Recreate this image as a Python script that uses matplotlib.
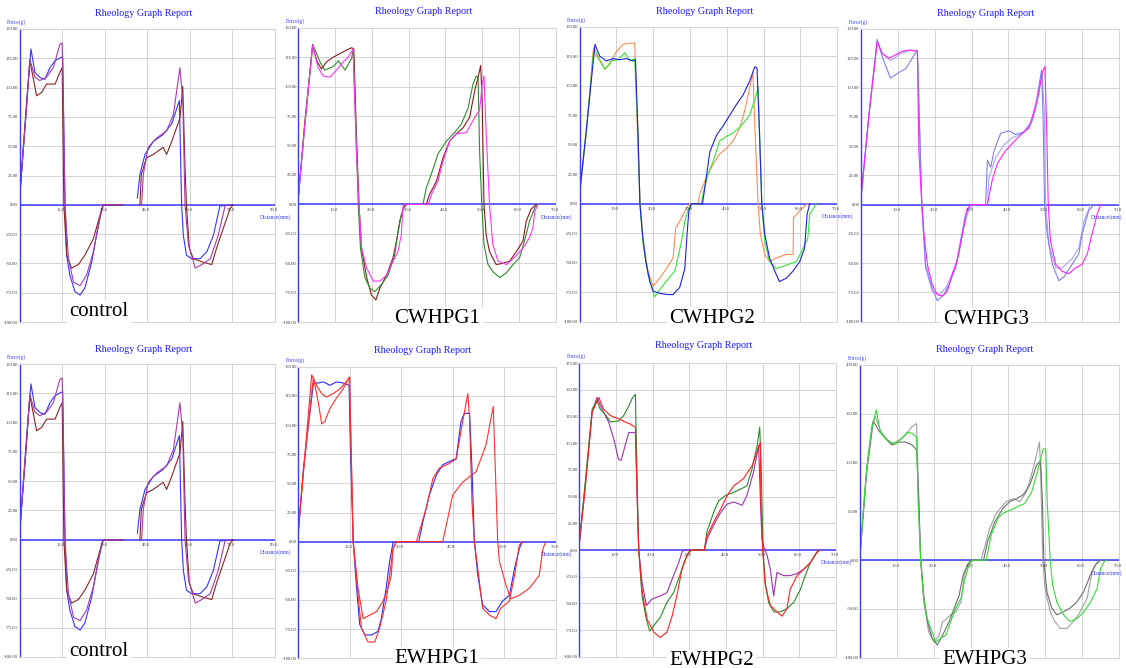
import matplotlib
matplotlib.use("Agg")
import matplotlib.pyplot as plt

NaN = float("nan")

# ---------------- control ----------------
CTRL_BLUE_X = [0, 2.5, 4.0, 5.4, 7.2, 8.9, 10.7, 12.5, 14.8, 15.2, 16.0, 16.6, 17.7, 19.5, 21.3, 23.0, 25.4, 27.1, 28.9, 29.5,
               36.5, NaN, 41.5, 42.4, 44.2, 47.1, 50.6, 53.6, 56.3, 57.1, 57.7, 58.8, 60.6, 63.6, 66.0, 68.3, 70.6, 75.3]
CTRL_BLUE_Y = [5.7, 89, 133, 113, 108.6, 107, 117, 123, 126, 126, 0, -43, -60, -74, -77, -71, -49, -26, -4, 0,
               0, NaN, 5.7, 26, 43, 54, 60, 69, 89, 0, -26, -43, -46, -46, -40, -26, -1, 0]
CTRL_MAROON_X = [0, 2.5, 3.6, 6.0, 7.8, 9.5, 12.5, 14.2, 15.0, 15.6, 16.6, 18.3, 20.7, 23.0, 26.0, 28.3, 29.5, 36.5, NaN, 42.4,
                 42.9, 44.7, 47.1, 50.6, 51.8, 53.6, 56.5, 57.5, 58.3, 58.8, 59.8, 61.2, 64.7, 67.7, 69.4, 71.8, 74.2, 75.3]
CTRL_MAROON_Y = [5.7, 85, 123, 93, 96, 103, 103, 113, 117, 0, -43, -54, -51, -43, -29, -9, 0, 0, NaN, 0,
                 26, 40, 43, 49, 43, 54, 74, 101, 31, 0, -37, -46, -49, -51, -37, -20, -3, 0]
CTRL_PURPLE_X = [0, 2.5, 3.6, 5.4, 7.1, 9.5, 11.9, 14.2, 15.0, 15.4, 16.0, 17.2, 19.0, 21.3, 23.6, 26.0, 28.3, 29.5, 36.5, NaN,
                 43.0, 43.6, 45.3, 48.3, 51.8, 54.2, 56.5, 57.5, 58.3, 59.5, 61.9, 64.2, 67.2, 70.0, 72.4, 74.1]
CTRL_PURPLE_Y = [5.7, 85, 124, 109, 106, 109, 117, 137, 138, 89, 0, -46, -66, -69, -60, -40, -11, 0, 0, NaN,
                 0, 26, 49, 57, 63, 77, 117, 89, 0, -34, -54, -51, -46, -26, -1, 0]

# ---------------- CWHPG1 ----------------
CW1_BROWN_X = [0, 1.8, 3.9, 5.0, 6.3, 7.7, 9.5, 11.3, 13.1, 14.5, 15.1, 15.8, 16.5, 17.2, 18.6, 19.9, 21.1, 22.2, 24.0, 25.8,
               26.7, 27.6, 28.5, 29.4, 33.9, 34.8, 35.7, 37.6, 39.4, 41.2, 43.0, 44.8, 46.6, 48.0, 48.9, 49.6, 50.0, 50.5, 51.1, 52.0,
               53.8, 55.7, 57.5, 59.3, 61.1, 62.0, 63.3, 64.7]
CW1_BROWN_Y = [5.7, 71, 135, 122, 115, 121, 125, 128, 131, 133, 132, 60, 0, -37, -62, -77, -81, -71, -60, -45,
               -31, -14, -4, 0, 0, 0, 8.5, 20, 40, 54, 60, 65, 74, 97, 108, 118, 88, 0, -26, -40,
               -51, -50, -48, -40, -31, -14, -4, 0]
CW1_GREEN_X = [0, 1.8, 3.9, 5.9, 7.2, 9.5, 10.9, 12.7, 14.5, 14.9, 15.7, 16.3, 16.9, 18.1, 19.5, 20.8, 22.6, 24.4, 26.2, 27.0,
               28.0, 29.0, 33.9, 34.8, 36.2, 38.0, 40.3, 42.5, 44.3, 46.2, 47.5, 48.4, 48.9, 49.3, 49.9, 50.5, 51.6, 52.9, 54.8, 56.6,
               58.4, 60.2, 61.5, 62.9, 64.3, 65.2]
CW1_GREEN_Y = [5.7, 68, 136, 121, 114, 117, 122, 114, 124, 132, 60, 0, -37, -62, -71, -74, -68, -60, -43, -26,
               -9, 0, 0, 14, 26, 43, 54, 61, 68, 82, 102, 109, 108, 45, 0, -34, -51, -57, -62, -58,
               -51, -45, -31, -14, -3, 0]
CW1_MAGENTA_X = [0, 1.8, 3.9, 5.4, 6.8, 8.6, 10.4, 12.2, 13.6, 14.9, 15.8, 16.5, 17.2, 18.6, 20.4, 22.2, 24.0, 25.8, 27.1, 28.0,
                 28.5, 29.9, 35.3, 36.2, 38.0, 39.4, 41.2, 43.0, 45.7, 48.0, 49.3, 50.0, 50.5, 51.1, 52.0, 52.9, 54.3, 56.6, 58.8, 61.1,
                 62.9, 63.8, 64.3, 65.2]
CW1_MAGENTA_Y = [5.7, 68, 135, 116, 109, 108, 114, 121, 125, 132, 45, 0, -37, -54, -65, -65, -60, -48, -40, -26,
                 -1, 0, 0, 8.5, 20, 37, 54, 60, 61, 74, 80, 102, 109, 60, 0, -34, -48, -51, -45, -37,
                 -28, -20, -6, 0]

# ---------------- CWHPG2 ----------------
CW2_BLUE_X = [0, 1.9, 4.2, 5.5, 7.3, 9.1, 10.9, 12.7, 14.6, 15.2, 15.9, 16.4, 17.1, 18.0, 19.1, 20.0, 21.8, 24.0, 25.4, 27.2,
              28.6, 29.2, 29.7, 30.4, 33.4, 34.0, 35.4, 37.2, 39.0, 40.8, 42.6, 44.4, 46.2, 47.6, 48.2, 48.9, 49.5, 50.3, 51.6, 53.0,
              54.3, 56.2, 58.0, 59.8, 61.1, 61.8, 62.5]
CW2_BLUE_Y = [7.6, 64, 135, 125, 121, 123, 122, 123, 121, 122, 58, 0, -26, -49, -66, -74, -76, -77, -77, -71,
              -55, -26, -6, 0, 0, 13, 44, 58, 66, 75, 84, 92, 104, 116, 115, 58, 0, -26, -46, -57,
              -66, -63, -57, -49, -38, -9, 0]
CW2_ORANGE_X = [0, 1.9, 3.7, 5.1, 6.9, 8.2, 10.0, 11.8, 13.6, 15.0, 15.9, 16.5, 17.3, 18.6, 20.0, 21.8, 23.6, 25.4, 26.1, 27.7,
                29.0, 29.9, 32.2, 32.6, 34.4, 36.2, 38.0, 39.9, 41.7, 43.5, 44.8, 46.2, 47.1, 47.7, 48.5, 49.1, 50.3, 51.6, 53.4, 56.2,
                58.0, 58.1, 59.8, 61.1, 62.0]
CW2_ORANGE_Y = [7.6, 61, 129, 123, 114, 118, 129, 135, 136, 136, 44, 0, -32, -57, -70, -63, -55, -46, -21, -12,
                -4, 0, 0, 8, 22, 33, 42, 47, 53, 64, 78, 98, 111, 58, 0, -26, -43, -49, -46, -43,
                -43, -12, -6, -2, 0]
CW2_GREEN_X = [0, 1.9, 3.9, 5.5, 6.9, 8.7, 10.5, 12.3, 13.7, 15.0, 15.9, 16.4, 17.3, 18.6, 20.4, 22.2, 24.0, 25.9, 27.7, 28.6,
               29.5, 30.4, 33.1, 33.5, 34.9, 36.3, 38.0, 39.9, 41.7, 43.9, 46.2, 48.0, 48.5, 48.9, 49.5, 50.3, 51.6, 53.4, 56.2, 58.9,
               60.7, 62.0, 62.5, 64.3]
CW2_GREEN_Y = [7.6, 63, 132, 122, 114, 121, 122, 128, 121, 123, 58, 0, -35, -60, -79, -71, -64, -57, -32, -15,
               -5, 0, 0, 8, 25, 36, 53, 57, 60, 66, 75, 92, 99, 58, 0, -32, -49, -55, -52, -49,
               -38, -29, -9, 0]

# ---------------- CWHPG3 ----------------
CW3_MAGENTA_X = [0, 2.2, 4.4, 5.8, 7.6, 9.4, 11.2, 13.0, 15.3, 15.7, 16.5, 17.1, 18.0, 19.3, 20.7, 22.1, 23.4, 24.8, 26.1, 27.5,
                 28.8, 29.7, 34.3, 35.6, 37.0, 39.2, 41.9, 43.8, 45.6, 47.8, 49.2, 49.9, 50.4, 50.8, 51.4, 52.8, 54.6, 56.4, 58.2, 60.0,
                 61.4, 62.7, 64.1, 65.0]
CW3_MAGENTA_Y = [6, 78, 139, 129, 125, 128, 131, 132, 131, 46, 0, -25, -51, -68, -77, -78, -74, -59, -48, -25,
                 -4, 0, 0, 21, 35, 46, 55, 61, 66, 89, 113, 118, 61, 0, -31, -51, -57, -59, -54, -51,
                 -42, -25, -8, 0]
CW3_LAV1_X = [0, 2.2, 4.4, 5.8, 8.0, 10.3, 12.1, 13.5, 15.3, 16.5, 17.5, 19.3, 20.7, 22.5, 24.3, 25.7, 27.0, 28.4, 29.7, 33.8,
              34.3, 35.2, 36.1, 37.9, 40.1, 41.9, 44.2, 46.5, 47.8, 49.0, 49.4, 49.8, 50.5, 51.9, 53.7, 55.0, 57.3, 59.1, 60.0, 61.8,
              63.2]
CW3_LAV1_Y = [6, 78, 141, 126, 108, 113, 116, 123, 132, 0, -51, -71, -82, -77, -65, -54, -31, -8, 0, 0,
              38, 32, 46, 61, 63, 60, 62, 72, 92, 115, 75, 0, -25, -51, -65, -62, -51, -42, -25, -5,
              0]
CW3_LAV2_X = [0, 2.2, 4.4, 5.8, 8.0, 10.8, 13.5, 15.3, 16.5, 17.5, 19.3, 21.2, 23.0, 24.8, 26.6, 27.9, 29.3, 30.7, 34.3, 34.7,
              36.5, 38.8, 41.0, 43.3, 45.6, 47.4, 49.2, 49.7, 50.1, 51.0, 52.8, 54.6, 57.3, 59.1, 60.5, 62.3]
CW3_LAV2_Y = [6, 78, 139, 129, 123, 129, 132, 131, 0, -54, -74, -77, -71, -59, -42, -19, -4, 0, 0, 23,
              40, 51, 57, 60, 65, 81, 111, 81, 0, -34, -54, -54, -46, -37, -14, 0]

# ---------------- EWHPG1 ----------------
EW1_BLUE_X = [0, 1.5, 4.4, 5.8, 7.3, 9.2, 11.1, 13.1, 14.8, 15.2, 16.0, 16.9, 17.9, 19.4, 21.3, 23.2, 24.2, 25.6, 26.6, 27.6,
              28.6, 35.1, 36.3, 38.2, 40.2, 42.1, 45.0, 46.0, 47.4, 48.4, 49.9, 50.6, 51.3, 52.3, 53.7, 55.7, 57.6, 59.5, 61.5, 63.0,
              64.4, 65.3]
EW1_BLUE_Y = [8.6, 63, 136, 136, 137, 134, 137, 136, 134, 77, 0, -37, -71, -80, -80, -77, -66, -40, -17, -1,
              0, 0, 17, 40, 57, 66, 70, 71, 103, 110, 110, 63, 0, -29, -54, -60, -60, -51, -46, -23,
              -6, 0]
EW1_REDA_X = [0, 1.5, 3.9, 5.3, 6.8, 8.2, 10.2, 12.1, 14.0, 15.0, 15.3, 16.0, 17.4, 18.9, 20.8, 22.8, 24.7, 26.1, 27.1, 27.6,
              28.6, 34.4, 35.3, 37.3, 39.2, 41.1, 44.0, 46.0, 47.9, 49.4, 49.9, 50.6, 51.3, 52.3, 53.7, 55.7, 57.6, 59.0, 61.5, 63.0,
              64.4, 65.3]
EW1_REDA_Y = [8.6, 60, 143, 134, 127, 124, 127, 131, 137, 141, 91, 0, -40, -66, -63, -60, -51, -40, -29, -6,
              0, 0, 9, 29, 54, 63, 67, 71, 103, 127, 106, 34, 0, -23, -57, -63, -66, -57, -51, -29,
              -3, 0]
EW1_REDB_X = [0, 1.5, 4.4, 5.8, 6.8, 7.7, 9.2, 11.1, 13.1, 14.8, 15.3, 16.0, 17.4, 18.4, 20.3, 22.3, 23.7, 25.6, 26.6, 27.6,
              28.6, 42.1, 45.0, 47.9, 51.8, 54.7, 56.8, 57.4, 58.1, 58.6, 60.5, 61.9, 64.4, 67.3, 70.2, 71.3, 72.1]
EW1_REDB_Y = [8.6, 60, 141, 120, 101, 103, 114, 123, 131, 141, 91, 0, -46, -74, -86, -86, -74, -51, -29, -6,
              0, 0, 40, 51, 60, 83, 116, 63, 0, -17, -37, -49, -46, -40, -29, -6, 0]

# ---------------- EWHPG2 ----------------
EW2_GREEN_X = [0, 1.6, 3.5, 4.8, 5.7, 7.1, 8.5, 10.7, 12.1, 13.5, 14.4, 15.3, 15.7, 16.2, 17.1, 18.3, 19.2, 20.3, 22.1, 23.9,
               25.7, 27.1, 28.5, 29.8, 30.7, 34.1, 34.8, 36.6, 38.0, 39.8, 42.1, 43.9, 45.7, 47.1, 48.5, 49.2, 49.6, 50.1, 50.7, 51.6,
               53.0, 54.8, 56.6, 58.5, 60.3, 61.6, 63.0, 64.4, 65.5]
EW2_GREEN_Y = [7, 63, 132, 140, 132, 127, 120, 121, 126, 135, 142, 146, 76, 0, -43, -65, -76, -71, -63, -49,
               -40, -27, -12, -2, 0, 0, 17, 35, 46, 51, 54, 57, 60, 76, 98, 115, 76, 0, -30, -49,
               -58, -58, -55, -49, -37, -24, -12, -4, 0]
EW2_RED_X = [0, 1.6, 3.5, 5.3, 6.6, 8.5, 10.7, 12.5, 13.9, 15.3, 15.7, 16.2, 17.1, 18.5, 20.3, 22.1, 23.9, 25.3, 26.6, 28.0,
             29.4, 30.5, 34.1, 34.8, 36.6, 38.5, 40.3, 42.1, 44.8, 47.1, 48.5, 49.4, 49.5, 50.0, 50.7, 52.1, 53.9, 55.3, 56.6, 57.5,
             59.4, 61.2, 63.0, 64.8, 65.5]
EW2_RED_Y = [6, 57, 129, 143, 132, 126, 123, 120, 118, 115, 60, 0, -37, -65, -77, -82, -77, -62, -43, -18,
             -5, 0, 0, 13, 26, 38, 51, 60, 67, 79, 92, 101, 45, 0, -33, -52, -58, -62, -55, -37,
             -24, -18, -12, -2, 0]
EW2_PURPLE_X = [0, 1.6, 3.5, 4.8, 6.2, 8.0, 9.4, 10.7, 11.4, 12.5, 13.5, 15.3, 15.7, 16.2, 17.1, 18.3, 19.8, 22.1, 23.9, 25.7,
                27.1, 28.0, 28.5, 34.1, 34.8, 36.6, 38.5, 40.3, 42.1, 44.4, 45.7, 47.5, 48.9, 49.4, 49.8, 50.5, 51.2, 52.1, 53.0, 53.9,
                55.7, 57.5, 59.4, 61.2, 63.0, 64.8, 65.7]
EW2_PURPLE_Y = [6, 60, 129, 143, 132, 120, 104, 85, 84, 98, 110, 110, 60, 0, -30, -52, -46, -43, -40, -24,
                -12, -2, 0, 0, 10, 23, 35, 43, 45, 42, 51, 73, 98, 45, 10, 1, -5, -18, -43, -21,
                -24, -24, -22, -18, -12, -2, 0]

# ---------------- EWHPG3 ----------------
EW3_GREEN_X = [0, 1.8, 3.2, 4.4, 5.5, 6.8, 8.2, 9.5, 11.4, 12.7, 14.1, 15.3, 15.7, 16.4, 17.3, 18.2, 19.1, 20.5, 21.8, 23.2,
               24.5, 25.9, 27.3, 28.2, 29.1, 30.0, 30.5, 33.2, 34.1, 35.5, 37.3, 38.6, 40.5, 42.7, 44.5, 46.4, 48.2, 49.5, 50.2, 50.6,
               51.4, 52.1, 53.2, 55.0, 56.8, 58.6, 60.5, 62.3, 64.1, 65.0, 65.9, 66.6]
EW3_GREEN_Y = [7, 94, 135, 154, 131, 125, 121, 119, 125, 131, 130, 126, 60, 0, -43, -60, -70, -84, -80, -77,
               -63, -49, -39, -22, -9, -2, 0, 0, 0, 26, 43, 48, 51, 55, 58, 70, 94, 114, 114, 60,
               0, -26, -43, -56, -63, -60, -53, -43, -29, -9, -2, 0]
EW3_GRAY1_X = [0, 1.8, 3.2, 4.1, 5.5, 6.8, 8.6, 10.5, 12.3, 14.1, 15.3, 15.9, 16.4, 17.3, 18.5, 20.0, 21.4, 22.3, 23.2, 24.5,
               25.9, 27.3, 28.2, 29.1, 30.0, 32.7, 33.6, 35.0, 36.8, 39.5, 41.4, 43.2, 45.0, 46.8, 48.5, 48.8, 49.4, 50.0, 51.4, 52.7,
               54.1, 55.9, 57.7, 59.5, 61.4, 62.7, 64.1, 65.0]
EW3_GRAY1_Y = [5, 94, 138, 147, 133, 126, 119, 123, 128, 137, 140, 60, 0, -36, -73, -84, -77, -63, -61, -56,
               -53, -43, -15, -5, 0, 0, 12, 32, 48, 60, 63, 60, 70, 94, 121, 94, 0, -29, -53, -63,
               -70, -70, -63, -53, -39, -12, -2, 0]
EW3_GRAY2_X = [0, 1.8, 3.6, 5.0, 6.8, 8.6, 10.5, 12.3, 14.1, 15.3, 15.9, 16.4, 17.3, 18.2, 19.5, 20.9, 22.3, 24.1, 25.5, 26.8,
               27.9, 29.1, 30.0, 33.4, 34.5, 36.4, 38.6, 40.5, 42.3, 44.1, 45.9, 47.7, 48.8, 49.3, 49.7, 50.5, 51.8, 53.2, 55.0, 56.8,
               58.6, 60.5, 62.3, 63.6, 65.0]
EW3_GRAY2_Y = [5, 90, 143, 133, 125, 118, 121, 121, 118, 113, 60, 0, -43, -63, -80, -87, -77, -63, -49, -36,
               -15, -5, 0, 0, 19, 39, 53, 60, 63, 67, 77, 97, 102, 60, 0, -32, -49, -56, -53, -49,
               -43, -32, -15, -5, 0]

LABELS = ["control", "CWHPG1", "CWHPG2", "CWHPG3", "control", "EWHPG1", "EWHPG2", "EWHPG3"]
TITLE = "Rheology Graph Report"

# ---------------- drawing ----------------
W, H = 1126, 668
fig = plt.figure(figsize=(W / 100, H / 100), dpi=100)
fig.patch.set_facecolor("white")

SERIF = ["Liberation Serif", "DejaVu Serif"]
AXBLUE = "#3c3cff"
GRID = "#d4d4d4"


def panel(box, xmax, xstep, ymin, ymax, ystep, curves, title_xy, label, label_xy, dist_dx=-11):
    l, t, r, b = box
    ax = fig.add_axes([l / W, 1 - b / H, (r - l) / W, (b - t) / H])
    ax.set_xlim(0, xmax)
    ax.set_ylim(ymin, ymax)
    xt = list(range(xstep, xmax + 1, xstep))
    ax.set_xticks(xt)
    ax.set_xticklabels([])
    yt = list(range(ymin, ymax + 1, ystep))
    ax.set_yticks(yt)
    ax.set_yticklabels([f"{v:.2f}" for v in yt], fontsize=3.3, family=SERIF, color="#333333")
    ax.tick_params(length=0, pad=1.2)
    ax.grid(True, color=GRID, lw=0.7)
    ax.set_axisbelow(True)
    for s in ["top", "right", "bottom"]:
        ax.spines[s].set_color(GRID)
        ax.spines[s].set_linewidth(0.7)
    ax.spines["left"].set_color(AXBLUE)
    ax.spines["left"].set_linewidth(1.0)
    ax.axhline(0, color=AXBLUE, lw=1.1, zorder=1.5)
    for xs, ys, c in curves:
        ax.plot(xs, ys, color=c, lw=0.8, zorder=2)
    for v in xt:
        ax.annotate(f"{v:.1f}", (v, 0), xytext=(-1, -2.5), textcoords="offset points",
                    ha="center", va="top", fontsize=3.3, family=SERIF, color="#333333",
                    annotation_clip=False)
    ax.annotate("Distance(mm)", (xmax, 0), xytext=(dist_dx, -9), textcoords="offset points",
                ha="left", va="center", fontsize=4, family=SERIF, color=AXBLUE,
                annotation_clip=False)
    ax.annotate("Force(g)", (0, ymax), xytext=(-9, 5), textcoords="offset points",
                ha="left", va="center", fontsize=4, family=SERIF, color=AXBLUE,
                annotation_clip=False)
    fig.text(title_xy[0] / W, 1 - title_xy[1] / H, TITLE, ha="center", va="center",
             fontsize=7.3, family=SERIF, color="#1a1aff")
    fig.text(label_xy[0] / W, 1 - label_xy[1] / H, label, ha="center", va="baseline",
             fontsize=15, family=SERIF, color="black",
             bbox=dict(facecolor="white", edgecolor="none", pad=1.5))
    return ax


ctrl = [(CTRL_BLUE_X, CTRL_BLUE_Y, "#3535ff"),
        (CTRL_MAROON_X, CTRL_MAROON_Y, "#8b2323"),
        (CTRL_PURPLE_X, CTRL_PURPLE_Y, "#a83aa8")]

panel((19.6, 29, 275, 322), 90, 15, -100, 150, 25, ctrl, (143.5, 14), LABELS[0], (99, 316))
panel((298.3, 27.7, 555.7, 322.3), 70, 10, -100, 150, 25,
      [(CW1_BROWN_X, CW1_BROWN_Y, "#8b1a1a"),
       (CW1_GREEN_X, CW1_GREEN_Y, "#2e8b2e"),
       (CW1_MAGENTA_X, CW1_MAGENTA_Y, "#ff33ff")],
      (423.3, 11.7), LABELS[1], (437.5, 323))
panel((579.5, 26.7, 837.3, 321.7), 70, 10, -100, 150, 25,
      [(CW2_ORANGE_X, CW2_ORANGE_Y, "#ff8c55"),
       (CW2_GREEN_X, CW2_GREEN_Y, "#33e833"),
       (CW2_BLUE_X, CW2_BLUE_Y, "#2020e0")],
      (704.3, 11), LABELS[2], (712.5, 323))
panel((861, 29, 1119, 321.7), 70, 10, -100, 150, 25,
      [(CW3_LAV2_X, CW3_LAV2_Y, "#a8a8f0"),
       (CW3_LAV1_X, CW3_LAV1_Y, "#8080f0"),
       (CW3_MAGENTA_X, CW3_MAGENTA_Y, "#ff22ff")],
      (986, 14), LABELS[3], (986, 324), dist_dx=-20)

panel((19.6, 364, 275, 657), 90, 15, -100, 150, 25, ctrl, (143.5, 349), LABELS[4], (99, 656))
panel((298.3, 366.7, 555.7, 658.3), 75, 15, -100, 150, 25,
      [(EW1_BLUE_X, EW1_BLUE_Y, "#2a2aff"),
       (EW1_REDA_X, EW1_REDA_Y, "#ff2a2a"),
       (EW1_REDB_X, EW1_REDB_Y, "#ff3030")],
      (422.5, 351), LABELS[5], (437, 663))
panel((579.3, 363.3, 836, 656.7), 70, 10, -100, 175, 25,
      [(EW2_PURPLE_X, EW2_PURPLE_Y, "#9b30b0"),
       (EW2_GREEN_X, EW2_GREEN_Y, "#2a8a2a"),
       (EW2_RED_X, EW2_RED_Y, "#ff2020")],
      (703.3, 346), LABELS[6], (711.7, 665))
panel((860, 365, 1119, 657.7), 70, 10, -100, 200, 50,
      [(EW3_GRAY1_X, EW3_GRAY1_Y, "#a0a0a0"),
       (EW3_GRAY2_X, EW3_GRAY2_Y, "#6e6e6e"),
       (EW3_GREEN_X, EW3_GREEN_Y, "#33dd33")],
      (985, 349), LABELS[7], (985, 664), dist_dx=-20)

fig.savefig("out.png", dpi=100, facecolor="white")
